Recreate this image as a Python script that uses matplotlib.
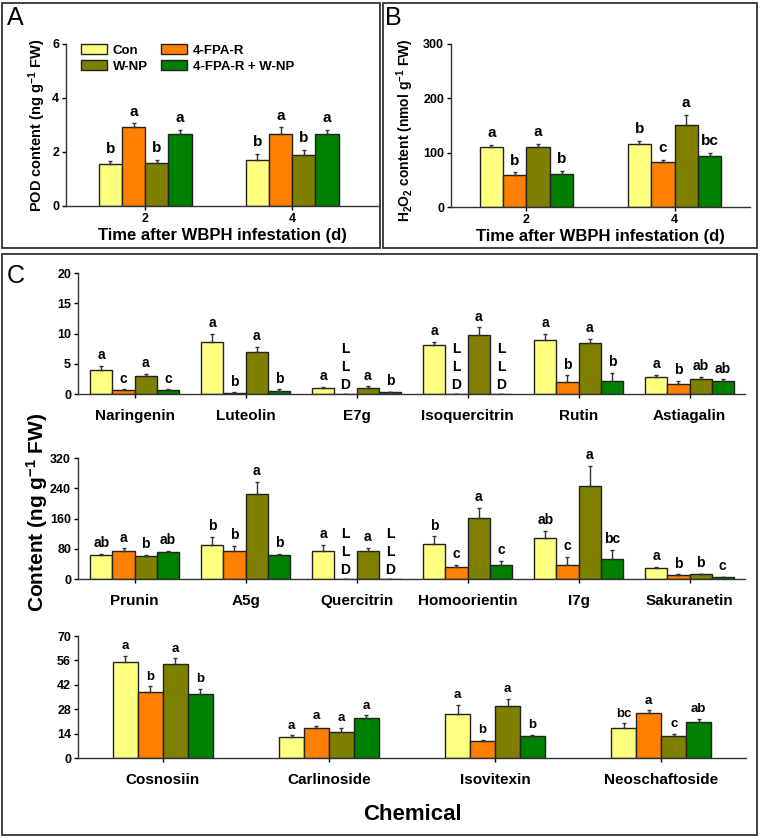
import matplotlib.pyplot as plt
import numpy as np
from matplotlib.patches import Rectangle

plt.rcParams['font.family'] = ['Liberation Sans', 'DejaVu Sans']
plt.rcParams['font.weight'] = 'bold'
plt.rcParams['mathtext.fontset'] = 'custom'
plt.rcParams['mathtext.rm'] = 'Liberation Sans:bold'
plt.rcParams['mathtext.bf'] = 'Liberation Sans:bold'
plt.rcParams['mathtext.default'] = 'bf'

W, H = 762, 838

treatments = ['Con', '4-FPA-R', 'W-NP', '4-FPA-R + W-NP']
colors = ['#ffff80', '#ff8000', '#808000', '#008000']

# panel A: POD
days = ['2', '4']
pod_mean = [[1.55, 1.72], [2.92, 2.66], [1.60, 1.89], [2.66, 2.66]]
pod_err = [[0.12, 0.22], [0.14, 0.25], [0.10, 0.18], [0.16, 0.16]]
pod_lab = [['b', 'b'], ['a', 'a'], ['b', 'b'], ['a', 'a']]

# panel B: H2O2
h2o2_mean = [[111, 116], [59, 82], [110, 150], [60, 93]]
h2o2_err = [[4, 5], [4.5, 4], [6, 19], [7, 7]]
h2o2_lab = [['a', 'b'], ['b', 'c'], ['a', 'a'], ['b', 'bc']]

# panel C row 1
row1_names = ['Naringenin', 'Luteolin', 'E7g', 'Isoquercitrin', 'Rutin', 'Astiagalin']
row1_mean = [[4.02, 8.6, 1.0, 8.04, 8.9, 2.81],
             [0.72, 0.17, 0, 0, 2.04, 1.65],
             [3.03, 6.94, 1.05, 9.8, 8.43, 2.53],
             [0.72, 0.5, 0.28, 0, 2.2, 2.09]]
row1_err = [[0.6, 1.3, 0.15, 0.56, 1.0, 0.33],
            [0.08, 0.08, 0, 0, 1.06, 0.5],
            [0.27, 0.83, 0.2, 1.2, 0.67, 0.34],
            [0.08, 0.3, 0.07, 0, 1.27, 0.33]]
row1_lab = [['a', 'a', 'a', 'a', 'a', 'a'],
            ['c', 'b', 'LLD', 'LLD', 'b', 'b'],
            ['a', 'a', 'a', 'a', 'a', 'ab'],
            ['c', 'b', 'b', 'LLD', 'b', 'ab']]

# panel C row 2
row2_names = ['Prunin', 'A5g', 'Quercitrin', 'Homoorientin', 'I7g', 'Sakuranetin']
row2_mean = [[62.6, 90, 75, 91.7, 107.6, 30],
             [75, 74, 0, 31.7, 37, 10.6],
             [60, 225, 74, 162, 246, 12.3],
             [70.5, 62.6, 0, 38, 52, 4.4]]
row2_err = [[3.4, 21, 15, 21, 20, 1.7],
            [6, 13, 0, 6.3, 21, 1.7],
            [3.5, 31.6, 9, 26, 53, 1.8],
            [3.5, 3.4, 0, 9.6, 24.7, 0.9]]
row2_lab = [['ab', 'b', 'a', 'b', 'ab', 'a'],
            ['a', 'b', 'LLD', 'c', 'c', 'b'],
            ['b', 'a', 'a', 'a', 'a', 'b'],
            ['ab', 'b', 'LLD', 'c', 'bc', 'c']]

# panel C row 3
row3_names = ['Cosnosiin', 'Carlinoside', 'Isovitexin', 'Neoschaftoside']
row3_mean = [[55.2, 12.1, 25.3, 17.1],
             [37.8, 17.0, 9.6, 25.9],
             [53.9, 14.8, 30.1, 12.7],
             [36.8, 23.0, 12.7, 20.9]]
row3_err = [[3.5, 0.9, 5.2, 2.7],
            [3.4, 1.6, 0.8, 1.5],
            [3.3, 2.5, 3.7, 1.3],
            [2.7, 1.4, 0.7, 1.7]]
row3_lab = [['a', 'a', 'a', 'bc'],
            ['b', 'a', 'b', 'a'],
            ['a', 'a', 'a', 'c'],
            ['b', 'a', 'b', 'ab']]


def px_axes(l, t, r, b):
    return fig.add_axes([l / W, 1 - b / H, (r - l) / W, (b - t) / H])


def style(ax, fs=9):
    for s in ['top', 'right']:
        ax.spines[s].set_visible(False)
    for s in ['left', 'bottom']:
        ax.spines[s].set_linewidth(1.0)
        ax.spines[s].set_color('#333333')
    ax.tick_params(axis='both', direction='out', length=3, width=1, labelsize=fs, pad=2)


def grouped(ax, mean, err, lab, width, ymax, lfs=10):
    n = len(mean[0])
    x = np.arange(n)
    for i in range(4):
        pos = x + (i - 1.5) * width
        m = np.array(mean[i], dtype=float)
        e = np.array(err[i], dtype=float)
        ax.bar(pos, m, width, color=colors[i], edgecolor='#222222', linewidth=1.0, zorder=2)
        ax.errorbar(pos, m, yerr=[np.zeros(n), e], fmt='none', ecolor='#333333',
                    elinewidth=1.0, capsize=1.5, capthick=1.0, zorder=3)
        for j in range(n):
            if lab[i][j] == 'LLD':
                ax.text(pos[j], ymax * 0.015, 'L\nL\nD', ha='center', va='bottom',
                        fontsize=10, fontweight='bold', linespacing=1.35)
            else:
                ax.text(pos[j], m[j] + e[j] + ymax * 0.03, lab[i][j], ha='center',
                        va='bottom', fontsize=lfs, fontweight='bold')
    ax.set_xticks(x)


fig = plt.figure(figsize=(W / 100, H / 100), dpi=100)

# frames
for (l, t, r, b) in [(2, 3, 380, 248), (383, 3, 757, 248), (2, 254, 757, 835)]:
    fig.add_artist(Rectangle((l / W, 1 - b / H), (r - l) / W, (b - t) / H,
                             transform=fig.transFigure, fill=False,
                             edgecolor='#333333', linewidth=1.3))

# Panel A
axA = px_axes(66, 44, 378, 206)
grouped(axA, pod_mean, pod_err, pod_lab, 0.158, 6, lfs=11)
axA.set_xlim(-0.54, 1.585)
axA.set_ylim(0, 6)
axA.set_yticks([0, 2, 4, 6])
axA.set_xticklabels(days)
style(axA)
axA.set_ylabel(r'POD content (ng g$^{-1}$ FW)', fontsize=10.5, fontweight='bold', labelpad=3)
axA.set_xlabel('Time after WBPH infestation (d)', fontsize=12, fontweight='bold', labelpad=2)
handles = [Rectangle((0, 0), 1, 1, facecolor=c, edgecolor='#222222', linewidth=1) for c in colors]
order = [0, 2, 1, 3]
axA.legend([handles[k] for k in order], [treatments[k] for k in order], ncol=2,
           loc='upper left', bbox_to_anchor=(0.048, 1.0), frameon=False, borderpad=0,
           borderaxespad=0, prop={'size': 9.5, 'weight': 'bold'}, handlelength=2.0,
           handleheight=0.8, handletextpad=0.4, columnspacing=1.0, labelspacing=0.25)

# Panel B
axB = px_axes(451, 44, 750, 207)
grouped(axB, h2o2_mean, h2o2_err, h2o2_lab, 0.158, 300, lfs=11)
axB.set_xlim(-0.51, 1.51)
axB.set_ylim(0, 300)
axB.set_yticks([0, 100, 200, 300])
axB.set_xticklabels(days)
style(axB)
axB.set_ylabel(r'H$_2$O$_2$ content (nmol g$^{-1}$ FW)', fontsize=10, fontweight='bold',
               labelpad=3)
axB.yaxis.set_label_coords(-0.118, 0.47)
axB.set_xlabel('Time after WBPH infestation (d)', fontsize=12, fontweight='bold', labelpad=2)

# Panel C
ax1 = px_axes(78, 273, 745, 394)
grouped(ax1, row1_mean, row1_err, row1_lab, 0.2, 20)
ax1.set_xlim(-0.51, 5.5)
ax1.set_ylim(0, 20)
ax1.set_yticks([0, 5, 10, 15, 20])
ax1.set_xticklabels(row1_names)

ax2 = px_axes(78, 458, 745, 579)
grouped(ax2, row2_mean, row2_err, row2_lab, 0.2, 320)
ax2.set_xlim(-0.51, 5.5)
ax2.set_ylim(0, 320)
ax2.set_yticks([0, 80, 160, 240, 320])
ax2.set_xticklabels(row2_names)

ax3 = px_axes(78, 636, 746, 758)
grouped(ax3, row3_mean, row3_err, row3_lab, 0.15, 70, lfs=9.5)
ax3.set_xlim(-0.51, 3.51)
ax3.set_ylim(0, 70)
ax3.set_yticks([0, 14, 28, 42, 56, 70])
ax3.set_xticklabels(row3_names)
ax3.set_xlabel('Chemical', fontsize=16, fontweight='bold', labelpad=12)

for ax in [ax1, ax2, ax3]:
    style(ax)
    ax.tick_params(axis='x', labelsize=11, pad=8)

fig.text(37 / W, 1 - 512 / H, r'Content (ng g$^{-1}$ FW)', rotation=90, ha='center',
         va='center', fontsize=15, fontweight='bold')

fig.text(7 / W, 1 - 25 / H, 'A', fontsize=18, fontweight='normal')
fig.text(385 / W, 1 - 25 / H, 'B', fontsize=18, fontweight='normal')
fig.text(7 / W, 1 - 283 / H, 'C', fontsize=18, fontweight='normal')

fig.savefig('out.png', dpi=100)
